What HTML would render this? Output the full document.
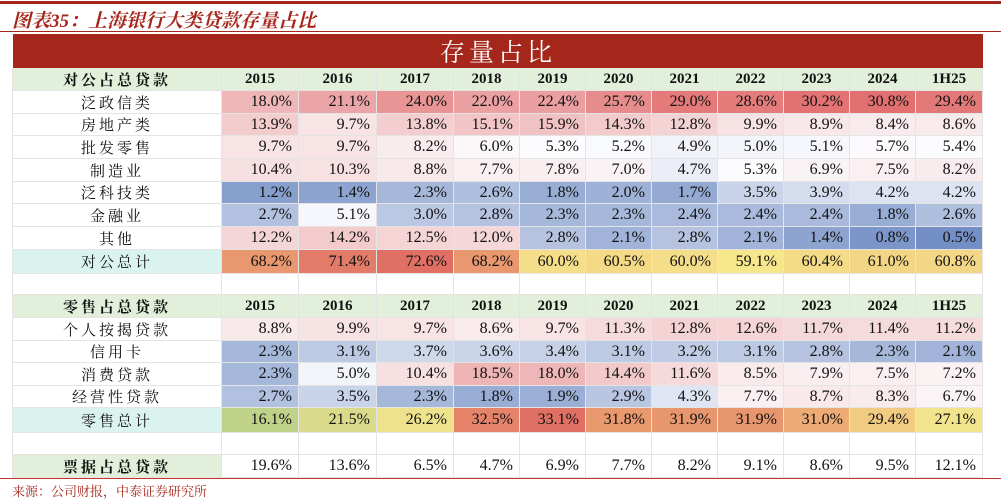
<!DOCTYPE html>
<html><head><meta charset="utf-8">
<style>
body{margin:0;width:1001px;height:503px;background:#fff;position:relative;overflow:hidden;font-family:"Liberation Serif","Noto Serif CJK SC",serif;}
.abs{position:absolute;box-sizing:border-box;}
.cell{position:absolute;box-sizing:border-box;font-size:16px;color:#111;display:flex;align-items:center;border-right:1px solid #e4e4e4;border-bottom:1px solid #e4e4e4;}
.num{justify-content:flex-end;padding-right:6px;}
.lab{justify-content:center;letter-spacing:3px;font-size:15px;}
.hd{justify-content:center;font-weight:bold;font-size:15px;}
</style></head><body>
<div class="abs" style="left:0;top:1px;width:1001px;height:3px;background:#a5271b"></div>
<div class="abs" style="left:12px;top:6px;font-size:19px;font-weight:bold;font-style:italic;color:#a5271b;font-family:'Liberation Serif','Noto Serif CJK SC',serif">图表35：上海银行大类贷款存量占比</div>
<div class="abs" style="left:0;top:31px;width:1001px;height:1px;background:#a5271b"></div>
<div class="abs" style="left:13px;top:34px;width:970px;height:34px;background:#a5271b;color:#fff;font-size:25px;display:flex;align-items:center;justify-content:center;letter-spacing:4px">存量占比</div>
<div class="abs" style="left:12px;top:68px;width:2px;height:410px;background:#e4e4e4"></div>
<div id="tbl"></div>
<div class="abs" style="left:0;top:478px;width:1001px;height:1px;background:#c0392b"></div>
<div class="abs" style="left:12px;top:481px;font-size:13px;color:#a5271b">来源：公司财报，中泰证券研究所</div>
<script>
const years=["2015","2016","2017","2018","2019","2020","2021","2022","2023","2024","1H25"];
const corpLabels=["泛政信类","房地产类","批发零售","制造业","泛科技类","金融业","其他"];
const corpValues=[
[18.0,21.1,24.0,22.0,22.4,25.7,29.0,28.6,30.2,30.8,29.4],
[13.9,9.7,13.8,15.1,15.9,14.3,12.8,9.9,8.9,8.4,8.6],
[9.7,9.7,8.2,6.0,5.3,5.2,4.9,5.0,5.1,5.7,5.4],
[10.4,10.3,8.8,7.7,7.8,7.0,4.7,5.3,6.9,7.5,8.2],
[1.2,1.4,2.3,2.6,1.8,2.0,1.7,3.5,3.9,4.2,4.2],
[2.7,5.1,3.0,2.8,2.3,2.3,2.4,2.4,2.4,1.8,2.6],
[12.2,14.2,12.5,12.0,2.8,2.1,2.8,2.1,1.4,0.8,0.5]];
const corpTotal=[68.2,71.4,72.6,68.2,60.0,60.5,60.0,59.1,60.4,61.0,60.8];
const retailLabels=["个人按揭贷款","信用卡","消费贷款","经营性贷款"];
const retailValues=[
[8.8,9.9,9.7,8.6,9.7,11.3,12.8,12.6,11.7,11.4,11.2],
[2.3,3.1,3.7,3.6,3.4,3.1,3.2,3.1,2.8,2.3,2.1],
[2.3,5.0,10.4,18.5,18.0,14.4,11.6,8.5,7.9,7.5,7.2],
[2.7,3.5,2.3,1.8,1.9,2.9,4.3,7.7,8.7,8.3,6.7]];
const retailTotal=[16.1,21.5,26.2,32.5,33.1,31.8,31.9,31.9,31.0,29.4,27.1];
const billValues=[19.6,13.6,6.5,4.7,6.9,7.7,8.2,9.1,8.6,9.5,12.1];

const colX=[222,299,377,454,520,586,652,718,784,850,916,983];
const tbl=document.getElementById('tbl');
function mix(a,b,t){t=Math.max(0,Math.min(1,t));return 'rgb('+a.map((v,i)=>Math.round(v+(b[i]-v)*t)).join(',')+')';}
const BLUE=[115,143,197],WHITE=[252,252,254],RED=[226,112,112];
function heat(v){const lo=0.5,mid=5.3,hi=30.8;
 if(v<=mid)return mix(BLUE,WHITE,(v-lo)/(mid-lo));
 return mix(WHITE,RED,(v-mid)/(hi-mid));}
const G=[192,210,138],Y=[246,230,140],O=[234,160,112],R=[224,112,100];
function corpColor(v){const lo=Math.min(...corpTotal),hi=Math.max(...corpTotal),t=(v-lo)/(hi-lo);
 return t<0.6?mix(Y,O,t/0.6):mix(O,R,(t-0.6)/0.4);}
function retailColor(v){const lo=Math.min(...retailTotal),hi=Math.max(...retailTotal),md=28;
 if(v<=md)return mix(G,Y,(v-lo)/(md-lo));
 const t=(v-md)/(hi-md);return t<0.7?mix(Y,O,t/0.7):mix(O,R,(t-0.7)/0.3);}
function cell(x,y,w,h,txt,cls,bg,name){const d=document.createElement('div');d.className='cell '+cls;
 d.style.left=x+'px';d.style.top=y+'px';d.style.width=w+'px';d.style.height=h+'px';if(bg)d.style.background=bg;d.textContent=txt;
 
 
 tbl.appendChild(d);return d;}
function header(y,h,title,nm){cell(13,y,209,h,title,'hd','#e2efda',nm+'-header-label').style.letterSpacing='3px';
 years.forEach((yr,i)=>cell(colX[i],y,colX[i+1]-colX[i],h,yr,'hd','#e2efda',nm+'-year-'+yr));}
function row(y,h,label,vals,colorFn,labBg,nm){cell(13,y,209,h,label,'lab',labBg||'#fff',nm+'-label');
 vals.forEach((v,i)=>cell(colX[i],y,colX[i+1]-colX[i],h,v.toFixed(1)+'%','num',colorFn(v),nm+'-'+years[i]));}
function blank(y,h,nm){cell(13,y,209,h,'','lab','#fff',nm);years.forEach((yr,i)=>cell(colX[i],y,colX[i+1]-colX[i],h,'','num','#fff',nm+'-'+yr));}
header(68,23,'对公占总贷款','corp');
let y=91;const rh=22.7;
corpLabels.forEach((l,i)=>{row(Math.round(y),Math.round(y+rh)-Math.round(y),l,corpValues[i],heat,null,'corp-row-'+(i+1));y+=rh;});
row(250,24,'对公总计',corpTotal,corpColor,'#daf3ef','corp-total');
blank(274,21,'blank-row-1');
header(295,23,'零售占总贷款','retail');
y=318;
retailLabels.forEach((l,i)=>{row(Math.round(y),Math.round(y+22.6)-Math.round(y),l,retailValues[i],heat,null,'retail-row-'+(i+1));y+=22.6;});
row(408,25,'零售总计',retailTotal,retailColor,'#daf3ef','retail-total');
blank(433,22,'blank-row-2');
cell(13,455,209,23,'票据占总贷款','hd','#e2efda','bill-label').style.letterSpacing='3px';
billValues.forEach((v,i)=>cell(colX[i],455,colX[i+1]-colX[i],23,v.toFixed(1)+'%','num','#fff','bill-'+years[i]));
</script>
</body></html>
